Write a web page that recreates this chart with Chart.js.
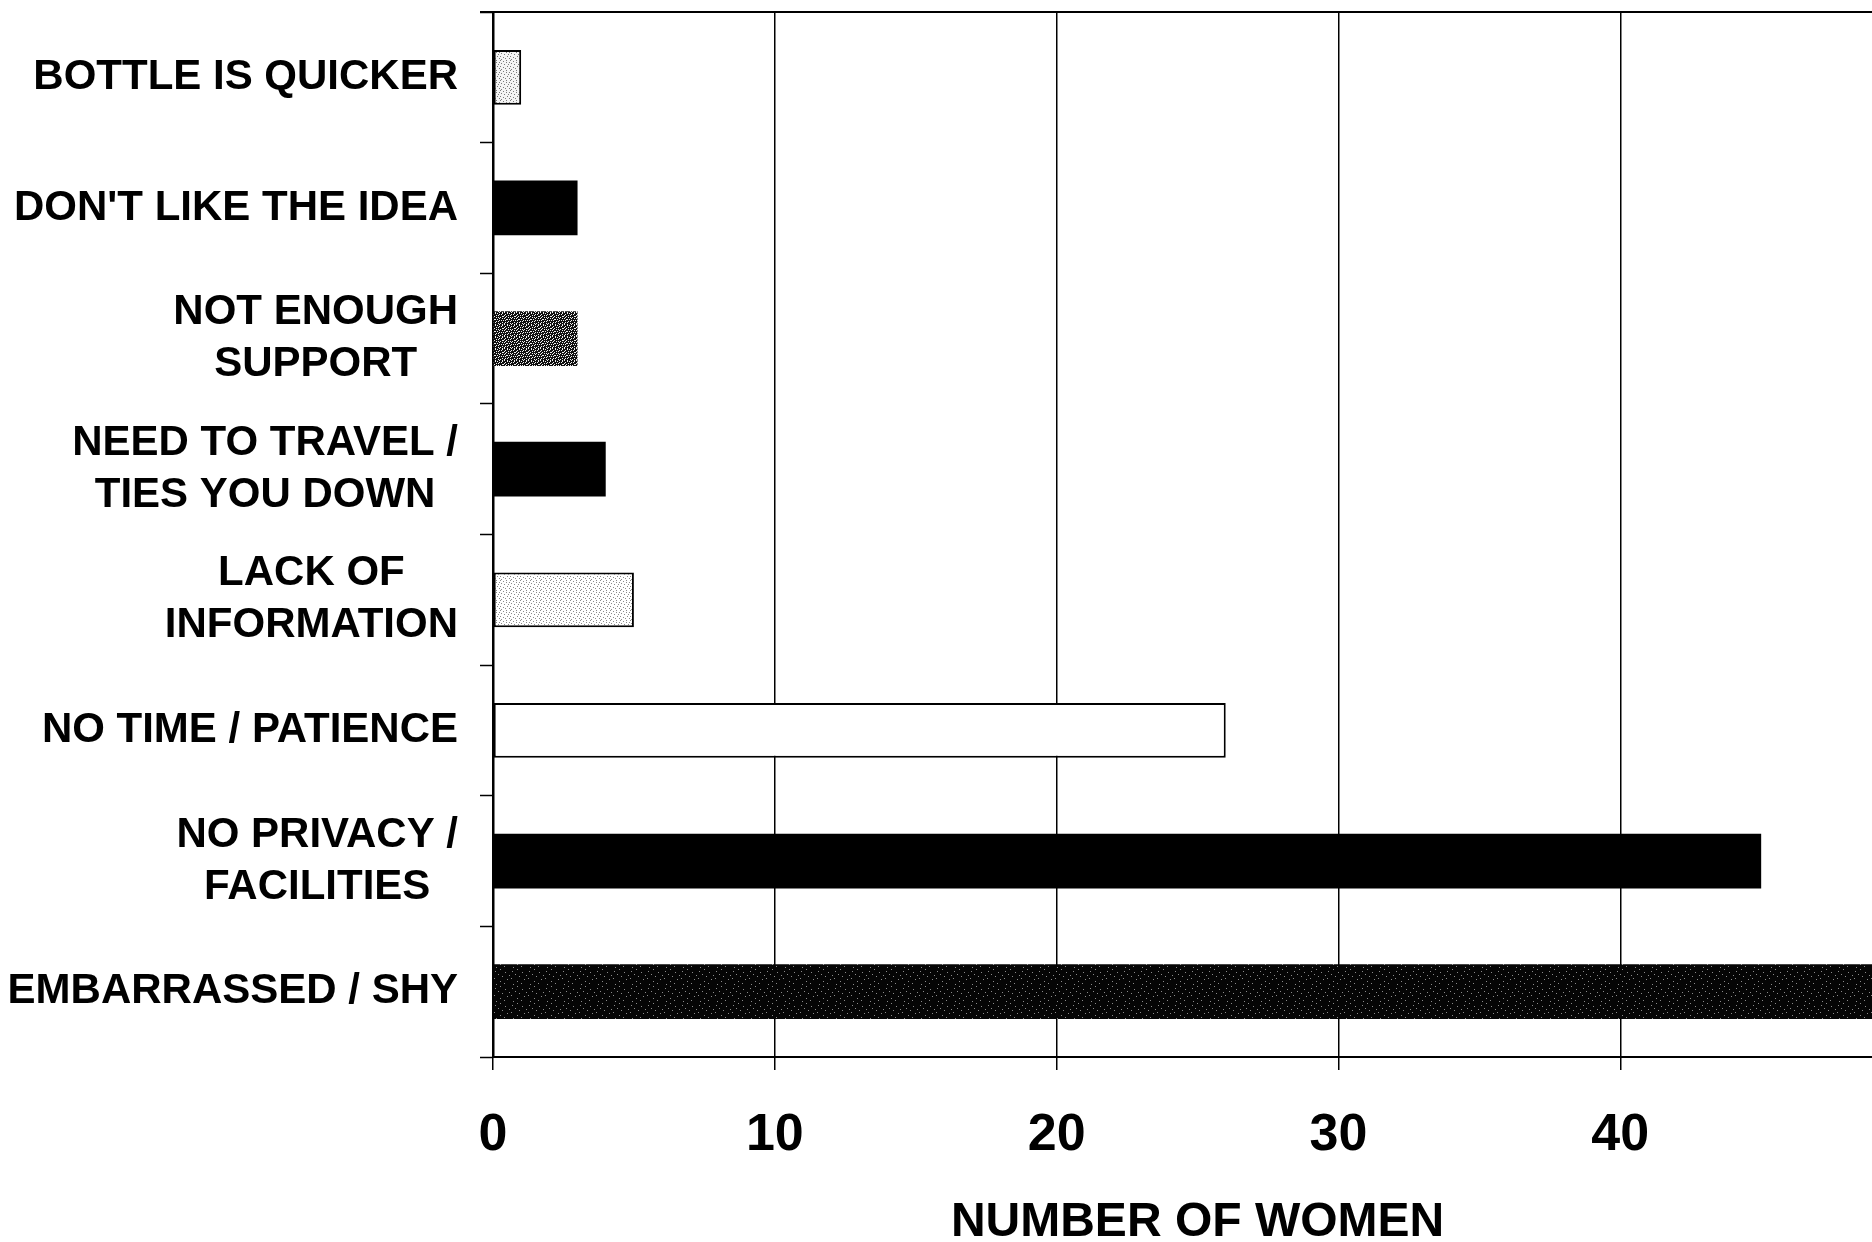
<!DOCTYPE html>
<html>
<head>
<meta charset="utf-8">
<title>Reasons for not breastfeeding</title>
<script src="https://cdn.jsdelivr.net/npm/chart.js@4.4.1/dist/chart.umd.min.js"></script>
<style>
  html, body { margin: 0; padding: 0; background: #fff; overflow: hidden; }
  canvas { display: block; }
</style>
</head>
<body>
<canvas id="chart" width="1965" height="1242" style="width:1965px;height:1242px"></canvas>
<script>
// Reasons given (one entry per bar, split into display lines)
const reasons = [
  ['BOTTLE IS QUICKER'],
  ["DON'T LIKE THE IDEA"],
  ['NOT ENOUGH', 'SUPPORT'],
  ['NEED TO TRAVEL /', 'TIES YOU DOWN'],
  ['LACK OF', 'INFORMATION'],
  ['NO TIME / PATIENCE'],
  ['NO PRIVACY /', 'FACILITIES'],
  ['EMBARRASSED / SHY']
];
// Number of women giving each reason
const women = [1, 3, 3, 4, 5, 26, 45, 50];
// Value axis
const axisMin = 0;
const axisMax = 50;
const axisStep = 10;
const axisTitle = 'NUMBER OF WOMEN';
// Shading used for each bar
const shading = ['lightDots', 'black', 'darkDots', 'black', 'paleDots', 'white', 'black', 'nearBlack'];

const FONT = '"Liberation Sans", Arial, Helvetica, sans-serif';

// Scattered-dot bitmaps ('#' marks a dot)
const SPECKLE = [
  '#..#...#..#.',
  '...#.#....#.',
  '.#.....#.#..',
  '#...#.#.....',
  '..#.......##',
  '.#..#.#.#...',
  '#......#..#.',
  '..##.#......',
  '.#.....#.#.#',
  '....#.#.....',
  '.#.#......#.',
  '#.....#.#...'
];
const SPARSE = [
  '.......#.........',
  '.................',
  '..#..............',
  '............#....',
  '.................',
  '.....#...........',
  '................#',
  '.........#.......',
  '.................',
  '.#...............',
  '..............#..',
  '.................',
  '.......#.........',
  '.................',
  '...........#.....',
  '...#.............',
  '.................'
];
const MEDIUM = [
  '#.....#...',
  '...#......',
  '......#..#',
  '.#........',
  '....#...#.',
  '..........',
  '#......#..',
  '...#......',
  '.....#...#',
  '.#........'
];

function dotTile(bg, fg, bitmap) {
  const c = document.createElement('canvas');
  c.width = bitmap[0].length;
  c.height = bitmap.length;
  const g = c.getContext('2d');
  g.fillStyle = bg;
  g.fillRect(0, 0, c.width, c.height);
  g.fillStyle = fg;
  bitmap.forEach((row, y) => {
    for (let x = 0; x < row.length; x++) {
      if (row[x] === '#') g.fillRect(x, y, 1, 1);
    }
  });
  return document.getElementById('chart').getContext('2d').createPattern(c, 'repeat');
}

const fills = {
  black: '#000000',
  white: '#ffffff',
  nearBlack: dotTile('#050505', '#8a8a8a', SPARSE),
  darkDots: dotTile('#101010', '#f0f0f0', SPECKLE),
  lightDots: dotTile('#f4f4f4', '#7a7a7a', MEDIUM),
  paleDots: dotTile('#ffffff', '#8a8a8a', MEDIUM)
};

const outlined = { lightDots: true, paleDots: true, white: true };

// Category names drawn beside the axis, each block right-aligned, its lines centred
const reasonLabels = {
  id: 'reasonLabels',
  afterDraw(chart) {
    const { ctx } = chart;
    const y = chart.scales.y;
    ctx.save();
    ctx.font = 'bold 42px ' + FONT;
    ctx.fillStyle = '#000';
    ctx.textBaseline = 'middle';
    ctx.textAlign = 'center';
    const right = y.right - 35;
    const lineGap = 52;
    reasons.forEach((lines, i) => {
      const cy = y.getPixelForTick(i);
      const w = Math.max(...lines.map(l => ctx.measureText(l).width));
      const cx = right - w / 2;
      lines.forEach((l, k) => {
        ctx.fillText(l, cx, cy + (k - (lines.length - 1) / 2) * lineGap);
      });
    });
    ctx.restore();
  }
};

// Top edge of the plot frame
const topFrame = {
  id: 'topFrame',
  afterDatasetsDraw(chart) {
    const { ctx, chartArea } = chart;
    ctx.save();
    ctx.strokeStyle = '#000';
    ctx.lineWidth = 2;
    ctx.beginPath();
    ctx.moveTo(chartArea.left - 13, chartArea.top);
    ctx.lineTo(chartArea.right, chartArea.top);
    ctx.stroke();
    ctx.restore();
  }
};

new Chart(document.getElementById('chart'), {
  type: 'bar',
  data: {
    labels: reasons.map(r => r.join(' ')),
    datasets: [{
      data: women,
      backgroundColor: shading.map(s => fills[s]),
      borderColor: '#000',
      borderWidth: shading.map(s => (outlined[s] ? 2 : 0)),
      borderSkipped: false,
      barPercentage: 0.42,
      categoryPercentage: 1
    }]
  },
  options: {
    indexAxis: 'y',
    responsive: false,
    animation: false,
    devicePixelRatio: 1,
    layout: { padding: { top: 12, left: 0, right: 0, bottom: 0 } },
    plugins: {
      legend: { display: false },
      tooltip: { enabled: false }
    },
    scales: {
      x: {
        min: axisMin,
        max: axisMax,
        ticks: {
          stepSize: axisStep,
          color: '#000',
          padding: 34,
          font: { family: FONT, size: 52, weight: 'bold', lineHeight: 1.2 }
        },
        grid: {
          color: '#000',
          lineWidth: 1.5,
          tickLength: 13,
          tickColor: '#000',
          tickWidth: 1.5
        },
        border: { display: true, color: '#000', width: 2 },
        title: {
          display: true,
          text: axisTitle,
          color: '#000',
          padding: 0,
          font: { family: FONT, size: 48, weight: 'bold', lineHeight: 0.8 }
        },
        afterFit(scale) { scale.height = 185; }
      },
      y: {
        ticks: { display: false },
        grid: {
          drawOnChartArea: false,
          offset: true,
          tickLength: 13,
          tickColor: '#000',
          tickWidth: 1.5
        },
        border: { display: true, color: '#000', width: 2.5 },
        afterFit(scale) { scale.width = 493; }
      }
    }
  },
  plugins: [reasonLabels, topFrame]
});
</script>
</body>
</html>
